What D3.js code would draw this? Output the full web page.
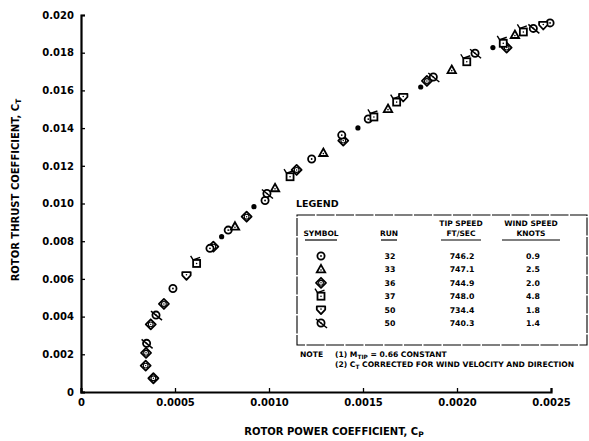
<!DOCTYPE html>
<html><head><meta charset="utf-8">
<script src="https://cdn.jsdelivr.net/npm/d3@7"></script>
<style>
body{margin:0;background:#fff;}
svg{display:block;font-family:"DejaVu Sans","Liberation Sans",sans-serif;font-weight:bold;}
</style></head>
<body>
<svg id="chart" width="589" height="441"></svg>
<script>
// ---- data (Cp, Ct) ----
const run32  = [[0.000489,0.00549],[0.000686,0.00762],[0.000783,0.00859],[0.000979,0.01016],[0.001227,0.01236],[0.001387,0.01363],[0.001528,0.01448],[0.002495,0.01958]];
const run33  = [[0.000819,0.00877],[0.001032,0.01081],[0.001289,0.01268],[0.001633,0.01501],[0.001972,0.01708],[0.002308,0.01894]];
const run36  = [[0.000385,0.00073],[0.000344,0.00140],[0.000346,0.00208],[0.000371,0.00359],[0.000441,0.00467],[0.000704,0.00771],[0.000881,0.00930],[0.001147,0.01178],[0.001395,0.01334],[0.001840,0.01650],[0.002264,0.01827]];
const run37  = [[0.000615,0.00682],[0.001112,0.01142],[0.001558,0.01459],[0.001679,0.01538],[0.002052,0.01752],[0.002246,0.01850],[0.002353,0.01910]];
const run50a = [[0.000561,0.00619],[0.001714,0.01565],[0.002459,0.01947]];
const run50b = [[0.000349,0.00258],[0.000399,0.00408],[0.000989,0.01053],[0.001874,0.01671],[0.002096,0.01797],[0.002406,0.01929]];
const dots   = [[0.000748,0.00824],[0.000920,0.00983],[0.001473,0.01401],[0.001807,0.01618],[0.002191,0.01827]];

const xTicks = [0,0.0005,0.0010,0.0015,0.0020,0.0025];
const xTickLabels = ["0","0.0005","0.0010","0.0015","0.0020","0.0025"];
const yTicks = [0,0.002,0.004,0.006,0.008,0.010,0.012,0.014,0.016,0.018,0.020];
const yTickLabels = ["0","0.002","0.004","0.006","0.008","0.010","0.012","0.014","0.016","0.018","0.020"];

const legendSymbols = ["run32","run33","run36","run37","run50a","run50b"];
const legendRuns = ["32","33","36","37","50","50"];
const legendTipSpeed = ["746.2","747.1","744.9","748.0","734.4","740.3"];
const legendWind = ["0.9","2.5","2.0","4.8","1.8","1.4"];

// ---- layout ----
const svg = d3.select("#chart");
const x = d3.scaleLinear().domain([0,0.0025]).range([81,551]);
const y = d3.scaleLinear().domain([0,0.020]).range([392,15]);

// axes
const xAxis = d3.axisBottom(x).tickValues(xTicks).tickSize(-4).tickPadding(7)
  .tickFormat((d,i)=>xTickLabels[i]);
const gx = svg.append("g").attr("transform","translate(0,392)").call(xAxis);
const yAxis = d3.axisLeft(y).tickValues(yTicks).tickSize(-4).tickPadding(6)
  .tickFormat((d,i)=>yTickLabels[i]);
const gy = svg.append("g").attr("transform","translate(81,0)").call(yAxis);
[gx,gy].forEach(g=>{
  g.select(".domain").attr("stroke","#000").attr("stroke-width",2.2);
  g.selectAll(".tick line").attr("stroke","#000").attr("stroke-width",1.3);
  g.selectAll(".tick text").attr("fill","#000").attr("font-size",10)
    .attr("font-family","DejaVu Sans").attr("font-weight","bold");
});
gy.selectAll(".tick text").attr("dx",-1);

// axis titles
const xt = svg.append("text").attr("x",334).attr("y",435).attr("text-anchor","middle")
  .attr("font-size",10).text("ROTOR POWER COEFFICIENT, C");
xt.append("tspan").attr("font-size",7.5).attr("dy",1.5).text("P");
const yt = svg.append("text").attr("transform","translate(19,190) rotate(-90)")
  .attr("text-anchor","middle").attr("font-size",10).text("ROTOR THRUST COEFFICIENT, C");
yt.append("tspan").attr("font-size",7.5).attr("dy",1.5).text("T");

// ---- symbols ----
function drawSymbol(g, type){
  const sw = 1.8;
  if(type==="run32"){
    g.append("circle").attr("r",3.6).attr("fill","#fff").attr("stroke","#000").attr("stroke-width",sw);
    g.append("circle").attr("r",0.9).attr("fill","#000");
  } else if(type==="run33"){
    g.append("path").attr("d","M0,-4.5L4.2,3L-4.2,3Z").attr("fill","#fff").attr("stroke","#000").attr("stroke-width",sw);
    g.append("circle").attr("r",0.8).attr("cy",0.6).attr("fill","#000");
  } else if(type==="run36"){
    g.append("path").attr("d","M0,-5L5,0L0,5L-5,0Z").attr("fill","#fff").attr("stroke","#000").attr("stroke-width",sw).attr("stroke-linejoin","round");
    g.append("circle").attr("r",2.4).attr("fill","none").attr("stroke","#000").attr("stroke-width",1.1);
    g.append("circle").attr("r",0.7).attr("fill","#000");
  } else if(type==="run37"){
    g.append("rect").attr("x",-3.5).attr("y",-3.5).attr("width",7).attr("height",7).attr("fill","#fff").attr("stroke","#000").attr("stroke-width",sw);
    g.append("path").attr("d","M-3.5,-3.5L-6,-7.5M-3.5,-3.5L3.5,-6").attr("stroke","#000").attr("stroke-width",1.4).attr("fill","none");
    g.append("circle").attr("r",0.8).attr("fill","#000");
  } else if(type==="run50a"){
    g.append("path").attr("d","M-4.2,-3.2L4.2,-3.2L4.2,0L0,4.5L-4.2,0Z").attr("fill","#fff").attr("stroke","#000").attr("stroke-width",sw).attr("stroke-linejoin","round");
    g.append("circle").attr("r",0.8).attr("cy",-0.5).attr("fill","#000");
  } else if(type==="run50b"){
    g.append("circle").attr("r",3.6).attr("fill","#fff").attr("stroke","#000").attr("stroke-width",sw);
    g.append("path").attr("d","M-5,-4L6,5").attr("stroke","#000").attr("stroke-width",1.5);
    g.append("circle").attr("r",0.8).attr("fill","#000");
  } else if(type==="dot"){
    g.append("circle").attr("r",2.6).attr("fill","#000");
  }
}

const series = [["run36",run36],["run32",run32],["run33",run33],["run37",run37],["run50a",run50a],["run50b",run50b],["dot",dots]];
series.forEach(([type,data])=>{
  svg.append("g").selectAll("g").data(data).join("g")
    .attr("transform",d=>`translate(${x(d[0])},${y(d[1])})`)
    .each(function(){ drawSymbol(d3.select(this), type); });
});

// ---- legend ----
const lg = svg.append("g");
lg.append("text").attr("x",296).attr("y",207).attr("font-size",9.5).text("LEGEND");
lg.append("rect").attr("x",297).attr("y",215).attr("width",290).attr("height",130)
  .attr("fill","none").attr("stroke","#000").attr("stroke-width",1.1).attr("stroke-dasharray","18,1.5");
const colX = [321, 389, 461, 531];
const hdr = lg.append("g").attr("font-size",7.5).attr("text-anchor","middle");
hdr.append("text").attr("x",colX[0]).attr("y",236).text("SYMBOL");
hdr.append("text").attr("x",colX[1]).attr("y",236).text("RUN");
hdr.append("text").attr("x",colX[2]).attr("y",226).text("TIP SPEED");
hdr.append("text").attr("x",colX[2]).attr("y",236).text("FT/SEC");
hdr.append("text").attr("x",colX[3]).attr("y",226).text("WIND SPEED");
hdr.append("text").attr("x",colX[3]).attr("y",236).text("KNOTS");
[[305,337],[381,397],[441,481],[502,560]].forEach(([a,b])=>{
  lg.append("line").attr("x1",a).attr("x2",b).attr("y1",240).attr("y2",240).attr("stroke","#000").attr("stroke-width",1.2);
});
const rowY = d3.scalePoint().domain(d3.range(legendRuns.length)).range([256,323]);
legendSymbols.forEach((s,i)=>{
  const g = lg.append("g").attr("transform",`translate(${colX[0]},${rowY(i)})`);
  drawSymbol(g, s);
  const ty = rowY(i)+3;
  lg.append("text").attr("x",colX[1]+1).attr("y",ty).attr("font-size",7.8).attr("text-anchor","middle").text(legendRuns[i]);
  lg.append("text").attr("x",colX[2]+1).attr("y",ty).attr("font-size",7.8).attr("text-anchor","middle").text(legendTipSpeed[i]);
  lg.append("text").attr("x",colX[3]+2).attr("y",ty).attr("font-size",7.8).attr("text-anchor","middle").text(legendWind[i]);
});
const n1 = lg.append("text").attr("x",300).attr("y",357).attr("font-size",7.6);
n1.append("tspan").text("NOTE");
n1.append("tspan").attr("x",335).text("(1)  M");
n1.append("tspan").attr("font-size",5.8).attr("dy",1.5).text("TIP");
n1.append("tspan").attr("dy",-1.5).text(" = 0.66 CONSTANT");
const n2 = lg.append("text").attr("x",335).attr("y",367).attr("font-size",7.6);
n2.append("tspan").text("(2)  C");
n2.append("tspan").attr("font-size",5.8).attr("dy",1.5).text("T");
n2.append("tspan").attr("dy",-1.5).text(" CORRECTED FOR WIND VELOCITY AND DIRECTION");
</script>
</body></html>
